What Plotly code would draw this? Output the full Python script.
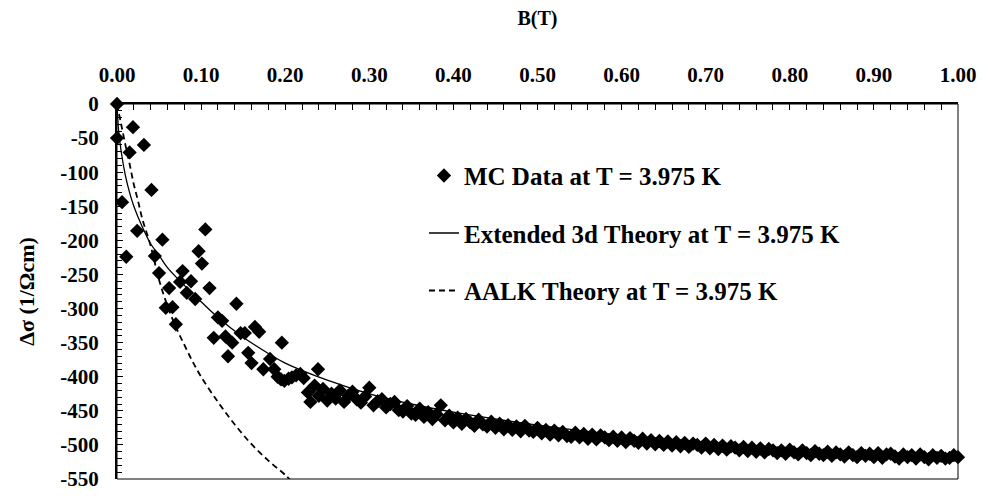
import plotly.graph_objects as go

# ---------------- data ----------------
# MC data: scattered low-field points
mc_B_low = [0.000, 0.000, 0.019, 0.032, 0.015, 0.041, 0.006, 0.024, 0.054, 0.105,
            0.011, 0.045, 0.097, 0.101, 0.050, 0.078, 0.075, 0.088, 0.062, 0.083,
            0.110, 0.093, 0.058, 0.066, 0.142, 0.120, 0.125, 0.070, 0.164, 0.169,
            0.115, 0.129, 0.137, 0.147, 0.152, 0.196, 0.132, 0.156, 0.160, 0.182,
            0.174, 0.187, 0.239, 0.191, 0.195, 0.199, 0.204, 0.208, 0.213, 0.218,
            0.222, 0.227, 0.230, 0.235]
mc_S_low = [0, -50, -34, -60, -71, -126, -144, -186, -199, -184,
            -224, -223, -216, -234, -248, -245, -261, -260, -270, -277,
            -270, -286, -299, -298, -293, -313, -318, -323, -327, -334,
            -343, -341, -350, -336, -336, -350, -370, -365, -380, -374,
            -389, -389, -389, -400, -404, -406, -403, -401, -398, -396,
            -402, -423, -437, -413]

# MC data: dense high-field band
mc_B_band = [
    0.240, 0.245, 0.250, 0.255, 0.260, 0.265, 0.270, 0.275, 0.280, 0.285,
    0.290, 0.295, 0.300, 0.305, 0.310, 0.315, 0.320, 0.325, 0.330, 0.335,
    0.340, 0.345, 0.350, 0.355, 0.360, 0.365, 0.370, 0.375, 0.380, 0.385,
    0.390, 0.395, 0.400, 0.405, 0.410, 0.415, 0.420, 0.425, 0.430, 0.435,
    0.440, 0.445, 0.450, 0.455, 0.460, 0.465, 0.470, 0.475, 0.480, 0.485,
    0.490, 0.495, 0.500, 0.505, 0.510, 0.515, 0.520, 0.525, 0.530, 0.535,
    0.540, 0.545, 0.550, 0.555, 0.560, 0.565, 0.570, 0.575, 0.580, 0.585,
    0.590, 0.595, 0.600, 0.605, 0.610, 0.615, 0.620, 0.625, 0.630, 0.635,
    0.640, 0.645, 0.650, 0.655, 0.660, 0.665, 0.670, 0.675, 0.680, 0.685,
    0.690, 0.695, 0.700, 0.705, 0.710, 0.715, 0.720, 0.725, 0.730, 0.735,
    0.740, 0.745, 0.750, 0.755, 0.760, 0.765, 0.770, 0.775, 0.780, 0.785,
    0.790, 0.795, 0.800, 0.805, 0.810, 0.815, 0.820, 0.825, 0.830, 0.835,
    0.840, 0.845, 0.850, 0.855, 0.860, 0.865, 0.870, 0.875, 0.880, 0.885,
    0.890, 0.895, 0.900, 0.905, 0.910, 0.915, 0.920, 0.925, 0.930, 0.935,
    0.940, 0.945, 0.950, 0.955, 0.960, 0.965, 0.970, 0.975, 0.980, 0.985,
    0.990, 0.995, 1.000]
mc_S_band = [
    -428, -418, -435, -425, -432, -420, -437, -428, -422, -433,
    -438, -429, -416, -442, -436, -433, -445, -440, -437, -449,
    -451, -443, -454, -456, -447, -459, -452, -462, -455, -442,
    -464, -457, -467, -460, -469, -462, -467, -472, -463, -470,
    -473, -466, -475, -469, -477, -471, -478, -473, -480, -472,
    -479, -481, -475, -483, -478, -485, -479, -486, -481, -487,
    -488, -482, -489, -484, -491, -485, -492, -486, -489, -493,
    -488, -494, -489, -496, -490, -494, -497, -491, -498, -493,
    -499, -494, -500, -495, -501, -496, -502, -497, -503, -498,
    -500, -504, -498, -505, -500, -506, -501, -507, -502, -504,
    -508, -503, -509, -504, -510, -505, -511, -506, -508, -512,
    -508, -513, -507, -511, -514, -508, -512, -515, -509, -513,
    -515, -510, -516, -511, -514, -517, -511, -515, -518, -512,
    -516, -513, -518, -512, -519, -514, -513, -517, -520, -514,
    -518, -515, -520, -514, -518, -521, -515, -519, -516, -520,
    -519, -515, -518]

# Extended 3d theory
ext_B = [0.000, 0.002, 0.005, 0.010, 0.015, 0.020, 0.030, 0.040, 0.050, 0.060,
         0.080, 0.100, 0.120, 0.150, 0.180, 0.200, 0.250, 0.300, 0.350, 0.400,
         0.500, 0.600, 0.700, 0.800, 0.900, 1.000]
ext_S = [0, -40, -70, -105, -130, -150, -180, -205, -222, -240,
         -266, -290, -313, -342, -366, -380, -405, -425, -440, -452,
         -471, -486, -498, -508, -516, -523]

# AALK theory
aalk_B = [0.000, 0.005, 0.010, 0.015, 0.020, 0.025, 0.030, 0.040, 0.050, 0.060,
          0.070, 0.080, 0.090, 0.100, 0.120, 0.140, 0.160, 0.180, 0.200, 0.207]
aalk_S = [0, -30, -60, -88, -118, -142, -168, -208, -258, -296,
          -327, -353, -378, -400, -437, -470, -499, -523, -544, -553]

x_tick_vals = [0.0, 0.1, 0.2, 0.3, 0.4, 0.5, 0.6, 0.7, 0.8, 0.9, 1.0]
x_tick_text = ["0.00", "0.10", "0.20", "0.30", "0.40", "0.50", "0.60", "0.70",
               "0.80", "0.90", "1.00"]
y_tick_vals = [0, -50, -100, -150, -200, -250, -300, -350, -400, -450, -500, -550]
y_tick_text = ["0", "-50", "-100", "-150", "-200", "-250", "-300", "-350",
               "-400", "-450", "-500", "-550"]

# ---------------- figure ----------------
FONT = "Liberation Serif"
fig = go.Figure()

fig.add_trace(go.Scatter(
    x=mc_B_low + mc_B_band, y=mc_S_low + mc_S_band,
    mode="markers", name="<b>MC Data at T = 3.975 K</b>",
    marker=dict(symbol="diamond", size=11, color="black", line=dict(width=0)),
    legendgroup="a", cliponaxis=False))

fig.add_trace(go.Scatter(
    x=ext_B, y=ext_S, mode="lines", name="<b>Extended 3d Theory at T = 3.975 K</b>",
    line=dict(color="black", width=1.3, shape="spline"), legendgroup="b"))

fig.add_trace(go.Scatter(
    x=aalk_B, y=aalk_S, mode="lines", name="<b>AALK Theory at T = 3.975 K</b>",
    line=dict(color="black", width=1.8, dash="6px,4px", shape="spline"),
    legendgroup="c"))

fig.update_layout(
    width=988, height=503,
    margin=dict(l=117, r=20, t=104, b=14),
    paper_bgcolor="white", plot_bgcolor="white",
    font=dict(family=FONT, color="black", size=20, weight="bold"),
    legend=dict(x=0.365, y=0.87, xanchor="left", yanchor="top",
                bgcolor="rgba(0,0,0,0)",
                font=dict(size=25, family=FONT, weight="bold"),
                tracegroupgap=22, itemsizing="trace"),
    showlegend=True,
)

fig.update_xaxes(
    range=[0, 1], side="top", tickvals=x_tick_vals,
    ticktext=["<b>%s</b>" % t for t in x_tick_text],
    ticks="inside", ticklen=6, tickwidth=1, tickcolor="black",
    minor=dict(dtick=0.02, tick0=0, ticks="inside", ticklen=6, tickwidth=1,
               tickcolor="black"),
    showline=True, linecolor="black", linewidth=2,
    showgrid=False, zeroline=False,
    tickfont=dict(size=21, family=FONT, weight="bold"),
    ticklabelstandoff=12,
    title=dict(text="<b>B(T)</b>", font=dict(size=20, family=FONT, weight="bold"),
               standoff=32),
)

fig.update_yaxes(
    range=[-550, 0], tickvals=y_tick_vals,
    ticktext=["<b>%s</b>" % t for t in y_tick_text],
    ticks="inside", ticklen=6, tickwidth=1, tickcolor="black",
    minor=dict(dtick=10, ticks="inside", ticklen=5, tickwidth=1, tickcolor="black"),
    showline=True, linecolor="black", linewidth=2,
    showgrid=False, zeroline=False,
    tickfont=dict(size=21, family=FONT, weight="bold"),
    ticklabelstandoff=12,
    title=dict(text="<b>Δσ (1/Ωcm)</b>", font=dict(size=22, family=FONT, weight="bold"),
               standoff=20),
)

# thin frame on the right and bottom
fig.add_shape(type="rect", xref="paper", yref="paper", x0=0, y0=0, x1=1, y1=1,
              line=dict(color="black", width=1), fillcolor="rgba(0,0,0,0)", layer="above")

fig.write_html("out.html")
